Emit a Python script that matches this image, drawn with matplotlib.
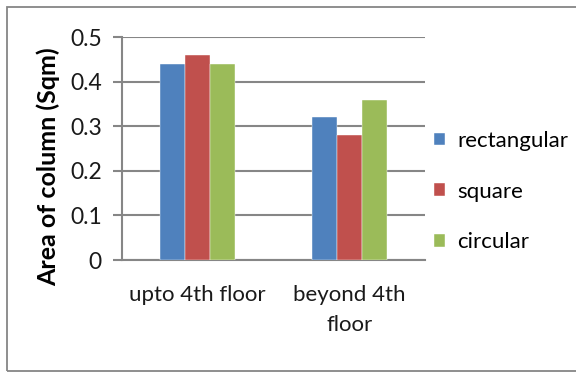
import matplotlib.pyplot as plt
import numpy as np
from matplotlib.patches import Rectangle

plt.rcParams['font.family'] = ['Lato', 'DejaVu Sans']

categories = ['upto 4th floor', 'beyond 4th\nfloor']
rectangular = [0.44, 0.32]
square = [0.46, 0.28]
circular = [0.44, 0.36]
series = [('rectangular', rectangular, '#4F81BD'),
          ('square', square, '#C0504D'),
          ('circular', circular, '#9BBB59')]

fig = plt.figure(figsize=(5.76, 3.74), dpi=100)
ax = fig.add_axes([0.2118, 0.3048, 0.526, 0.596])

# outer chart frame
fig.patches.append(Rectangle((7 / 576, 3 / 374), 1.05, 364 / 374, transform=fig.transFigure,
                             fill=False, edgecolor='#868686', linewidth=1.3))

x = np.arange(len(categories))
w = 0.165
for i, (name, vals, col) in enumerate(series):
    ax.bar(x + (i - 1) * w, vals, width=w, color=col, label=name, zorder=3,
           edgecolor='white', linewidth=0.3)

ax.set_xlim(-0.5, 1.5)
ax.set_ylim(0, 0.5)
ax.set_yticks([0, 0.1, 0.2, 0.3, 0.4, 0.5])
ax.set_yticklabels(['0', '0.1', '0.2', '0.3', '0.4', '0.5'])
ax.set_xticks(x)
ax.set_xticklabels(categories, linespacing=1.6)
ax.grid(axis='y', color='#868686', linewidth=1.5, zorder=0)

for s in ['top', 'right']:
    ax.spines[s].set_visible(False)
ax.spines['left'].set_color('#868686')
ax.spines['left'].set_linewidth(1.5)
ax.spines['bottom'].set_color('#868686')
ax.spines['bottom'].set_linewidth(1.5)

ax.tick_params(axis='y', length=6.5, width=1.5, color='#868686', labelsize=16.5, pad=8,
               labelcolor='#1a1a1a')
ax.tick_params(axis='x', length=0, labelsize=16, pad=18, labelcolor='#1a1a1a')

ax.set_ylabel('Area of column (Sqm)', fontsize=18, fontweight='bold', va='center')
ax.yaxis.set_label_coords(-0.244, 0.417)

fig.legend(loc='upper left', bbox_to_anchor=(425 / 576, 1 - 122 / 374), frameon=False,
           fontsize=16, handlelength=0.5, handleheight=0.5, handletextpad=0.55,
           labelspacing=1.38, borderaxespad=0)

fig.savefig('out.png', dpi=100)
